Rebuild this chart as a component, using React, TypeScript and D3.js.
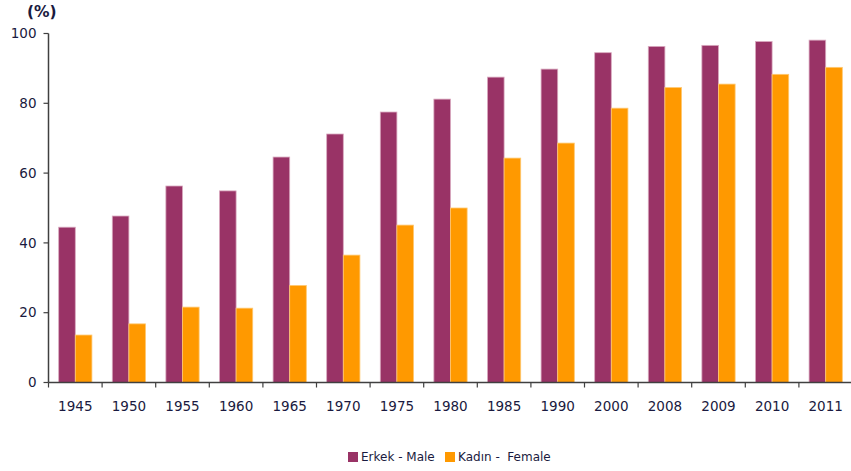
import React, { useRef, useEffect } from "react";
import * as d3 from "d3";

const years = ["1945", "1950", "1955", "1960", "1965", "1970", "1975", "1980", "1985", "1990", "2000", "2008", "2009", "2010", "2011"];
const male = [44.5, 47.7, 56.3, 54.9, 64.6, 71.2, 77.5, 81.2, 87.5, 89.8, 94.5, 96.3, 96.6, 97.7, 98.1];
const female = [13.6, 16.8, 21.6, 21.3, 27.8, 36.5, 45.1, 50.0, 64.3, 68.6, 78.6, 84.5, 85.5, 88.3, 90.3];
const yTicks = [0, 20, 40, 60, 80, 100];
const seriesNames = ["Erkek - Male", "Kadın -  Female"];

const W = 851;
const H = 471;
const FONT = "Verdana, 'DejaVu Sans', sans-serif";

const App: React.FC = () => {
  const svgRef = useRef<SVGSVGElement>(null);

  useEffect(() => {
    if (!svgRef.current) return;
    const svg = d3.select(svgRef.current);
    svg.selectAll("*").remove();

    const left = 48.5;
    const right = 852.5;
    const top = 33.5;
    const bottom = 382.5;
    const axisColor = "#404040";
    const textColor = "#1a1a40";

    const x = d3.scaleBand().domain(years).range([left, right]).paddingInner(0).paddingOuter(0);
    const y = d3.scaleLinear().domain([0, 100]).range([bottom, top]);
    const barW = x.bandwidth() * 0.31;
    const pad = (x.bandwidth() - 2 * barW) / 2;

    const colors = ["#993366", "#FF9900"];
    const strokes = ["#d9a9bf", "#ffc870"];

    // bars
    [male, female].forEach((vals, si) => {
      svg
        .append("g")
        .selectAll("rect")
        .data(vals)
        .enter()
        .append("rect")
        .attr("x", (_, i) => (x(years[i]) as number) + pad + si * barW)
        .attr("y", (d) => y(d))
        .attr("width", barW)
        .attr("height", (d) => bottom - y(d))
        .attr("fill", colors[si])
        .attr("stroke", strokes[si])
        .attr("stroke-width", 0.8);
    });

    // y axis
    const yAxis = svg.append("g");
    yAxis
      .append("line")
      .attr("x1", left)
      .attr("x2", left)
      .attr("y1", top)
      .attr("y2", bottom)
      .attr("stroke", axisColor)
      .attr("stroke-width", 1.5);
    yTicks.forEach((t) => {
      yAxis
        .append("line")
        .attr("x1", left - 5)
        .attr("x2", left)
        .attr("y1", y(t))
        .attr("y2", y(t))
        .attr("stroke", axisColor)
        .attr("stroke-width", 1.2);
      yAxis
        .append("text")
        .attr("x", left - 12)
        .attr("y", y(t))
        .attr("dy", "0.35em")
        .attr("text-anchor", "end")
        .attr("font-family", FONT)
        .attr("font-size", 13.5)
        .attr("fill", textColor)
        .text(t);
    });

    svg
      .append("text")
      .attr("x", 27)
      .attr("y", 17)
      .attr("font-family", FONT)
      .attr("font-size", 15.5)
      .attr("font-weight", "bold")
      .attr("fill", textColor)
      .text("(%)");

    // x axis
    const xAxis = svg.append("g");
    xAxis
      .append("line")
      .attr("x1", left)
      .attr("x2", right)
      .attr("y1", bottom)
      .attr("y2", bottom)
      .attr("stroke", axisColor)
      .attr("stroke-width", 1.5);
    years.forEach((yr) => {
      const bx = x(yr) as number;
      xAxis
        .append("line")
        .attr("x1", bx)
        .attr("x2", bx)
        .attr("y1", bottom)
        .attr("y2", bottom + 5)
        .attr("stroke", axisColor)
        .attr("stroke-width", 1.2);
      xAxis
        .append("text")
        .attr("x", bx + x.bandwidth() / 2)
        .attr("y", 411)
        .attr("text-anchor", "middle")
        .attr("font-family", FONT)
        .attr("font-size", 13.5)
        .attr("fill", textColor)
        .text(yr);
    });

    // legend
    const legend = svg.append("g");
    const legendX = [348, 445];
    seriesNames.forEach((name, i) => {
      legend
        .append("rect")
        .attr("x", legendX[i])
        .attr("y", 452)
        .attr("width", 10)
        .attr("height", 10)
        .attr("fill", colors[i]);
      legend
        .append("text")
        .attr("x", legendX[i] + 13)
        .attr("y", 461)
        .attr("font-family", FONT)
        .attr("font-size", 12)
        .attr("fill", textColor)
        .attr("xml:space", "preserve")
        .style("white-space", "pre")
        .text(name);
    });
  }, []);

  return (
    <svg
      ref={svgRef}
      width={W}
      height={H}
      style={{ position: "absolute", left: 0, top: 0, background: "#fff" }}
    />
  );
};

export default App;
